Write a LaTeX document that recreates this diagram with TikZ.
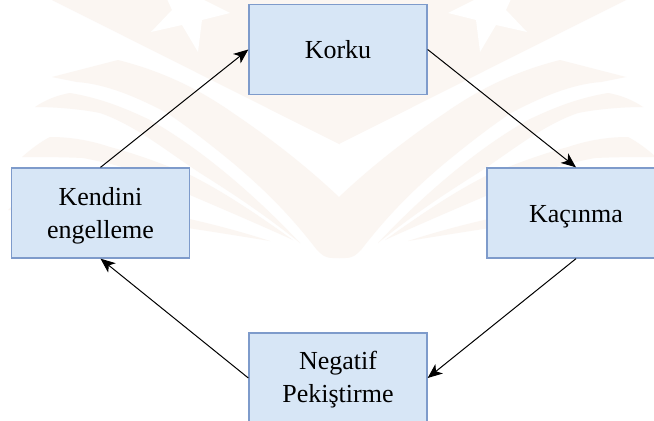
\documentclass[tikz,border=0pt]{standalone}
\usepackage{fontspec}
\setmainfont{Liberation Serif}
\usetikzlibrary{arrows.meta}
\definecolor{wm}{HTML}{FBF6F2}
\definecolor{boxfill}{HTML}{D7E6F6}
\definecolor{boxline}{HTML}{7E9BCB}
\newlength{\pxu}\setlength{\pxu}{0.75pt}
\newcommand{\lowered}[2]{\raisebox{-#1\pxu}[0pt][0pt]{#2}}
\tikzset{
  flow/.style={draw=boxline,fill=boxfill,line width=1pt,minimum width=178\pxu,minimum height=90\pxu,align=center,inner sep=0pt,font=\fontsize{26\pxu}{33\pxu}\selectfont,text=black},
  link/.style={draw=black,line width=0.75pt,-{Stealth[length=11pt,width=9pt,inset=3pt]}},
  wmark/.style={fill=wm,draw=none}
}
\begin{document}
\begin{tikzpicture}[x=0.75pt,y=-0.75pt]
\useasboundingbox (0,0) rectangle (654,421);
\clip (0,0) rectangle (654,421);
\fill[white] (0,0) rectangle (654,421);
% watermark, mirrored about x=339
\foreach \m/\o in {1/0,-1/678}{
\begin{scope}[shift={(\o,0)},xscale=\m]
  \fill[wmark] (52,0) -- (339,144) -- (339,0) -- cycle;
  \fill[white] (167,-1) -- (202,-1) -- (230,13) -- (202,20) -- (198,52) -- (182,25) -- (151,32) -- (172,10) -- cycle;
  % feather 1 with the central wedge
  \fill[wmark] (52,77) -- (118,60) .. controls (165,72) and (200,90) .. (233,113) .. controls (270,138) and (305,165) .. (339,197) -- (339,258) -- (333,258) .. controls (325,258) and (322,255) .. (317,250) .. controls (290,215) and (265,190) .. (233,163) .. controls (205,140) and (185,125) .. (167,113) .. controls (135,96) and (105,84) .. (77,82) -- cycle;
  % feather 2
  \fill[wmark] (35,107) .. controls (45,100) and (58,95) .. (70,93) .. controls (100,98) and (125,108) .. (150,120) .. controls (200,148) and (255,195) .. (300,243) .. controls (265,215) and (235,195) .. (200,173) .. controls (165,150) and (135,125) .. (100,113) .. controls (80,109) and (55,107) .. (35,107) -- cycle;
  % feather 3
  \fill[wmark] (22,157) .. controls (30,150) and (40,142) .. (50,137) .. controls (75,137) and (95,142) .. (110,147) .. controls (140,155) and (165,165) .. (190,175) .. controls (225,192) and (265,220) .. (293,240) .. controls (260,225) and (225,210) .. (190,195) .. controls (155,175) and (120,165) .. (83,158) .. controls (60,157) and (40,157) .. (22,157) -- cycle;
  % feather 4
  \fill[wmark] (8,210) .. controls (15,203) and (22,198) .. (30,195) .. controls (100,200) and (190,215) .. (270,241) .. controls (215,232) and (150,222) .. (100,215) .. controls (70,212) and (35,210) .. (8,210) -- cycle;
\end{scope}}
\node[flow] (k) at (338,49.5) {\lowered{8.5}{Korku}};
\node[flow] (e) at (100.5,213) {\lowered{8.5}{Kendini}\\\lowered{8.5}{engelleme}};
\node[flow] (c) at (576,213) {\lowered{9}{Kaçınma}};
\node[flow] (n) at (338,378) {\lowered{7.5}{Negatif}\\\lowered{7.5}{Pekiştirme}};
\draw[link] (e.north) -- (k.west);
\draw[link] (k.east) -- (c.north);
\draw[link] (c.south) -- (n.east);
\draw[link] (n.west) -- (e.south);
\end{tikzpicture}
\end{document}
